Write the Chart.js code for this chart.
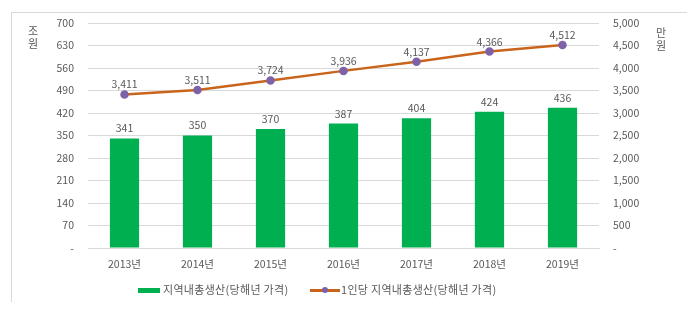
<!DOCTYPE html>
<html><head><meta charset="utf-8">
<script src="https://cdn.jsdelivr.net/npm/chart.js@4/dist/chart.umd.min.js"></script>
<style>
html,body{margin:0;padding:0;background:#fff;}
#wrap{position:relative;width:699px;height:326px;overflow:hidden;}
#frame{position:absolute;left:11px;top:12px;width:676px;height:290px;border-top:1px solid #d9d9d9;border-left:1px solid #d9d9d9;box-sizing:border-box;}
#c{position:absolute;left:0;top:0;}
.leg{position:absolute;top:281px;font-family:"Noto Sans CJK KR","Noto Sans",sans-serif;font-size:11px;letter-spacing:0.3px;color:#595959;white-space:nowrap;line-height:16px;}
</style></head>
<body>
<div id="wrap">
<div id="frame"></div>
<canvas id="c" width="699" height="326"></canvas>
<div class="leg" style="left:138px;"><span style="display:inline-block;width:22px;height:5px;background:#00B050;vertical-align:middle;margin-right:3px;position:relative;top:-1px;"></span>지역내총생산(당해년 가격)</div>
<div class="leg" style="left:310px;"><span style="display:inline-block;width:30px;height:14px;vertical-align:middle;position:relative;top:-1px;margin-right:1px;"><span style="position:absolute;left:0;top:6px;width:30px;height:2.5px;background:#C9651B;"></span><span style="position:absolute;left:12px;top:4px;width:6px;height:6px;border-radius:50%;background:#7E62A8;"></span></span>1인당 지역내총생산(당해년 가격)</div>
</div>
<script>
const categories = ["2013년","2014년","2015년","2016년","2017년","2018년","2019년"];
const grdp = [341,350,370,387,404,424,436];
const grdpPerCapita = [3411,3511,3724,3936,4137,4366,4512];
const leftTicks = [0,70,140,210,280,350,420,490,560,630,700];
const rightTicks = [0,500,1000,1500,2000,2500,3000,3500,4000,4500,5000];

const FONT = '"Noto Sans CJK KR","Noto Sans",sans-serif';
const GRAY = '#595959';

const labelPlugin = {
  id: 'valueLabels',
  afterDatasetsDraw(chart) {
    const ctx = chart.ctx;
    ctx.save();
    ctx.font = '10.5px ' + FONT;
    ctx.fillStyle = GRAY;
    ctx.textAlign = 'center';
    ctx.textBaseline = 'middle';
    chart.data.datasets.forEach((ds, i) => {
      const meta = chart.getDatasetMeta(i);
      meta.data.forEach((el, j) => {
        const v = ds.data[j];
        ctx.fillText(v.toLocaleString('en-US'), el.x, el.y - 10);
      });
    });
    // axis titles stacked vertically
    ctx.font = '11px ' + FONT;
    ctx.fillText('조', 33, 31);
    ctx.fillText('원', 33, 44);
    ctx.fillText('만', 661, 33);
    ctx.fillText('원', 661, 46);
    ctx.restore();
  }
};

new Chart(document.getElementById('c'), {
  data: {
    labels: categories,
    datasets: [
      {
        type: 'line',
        label: '1인당 지역내총생산(당해년 가격)',
        data: grdpPerCapita,
        yAxisID: 'y2',
        borderColor: '#C9651B',
        borderWidth: 2.5,
        pointBackgroundColor: '#7E62A8',
        pointBorderColor: '#7E62A8',
        pointRadius: 3,
        tension: 0,
        order: 0
      },
      {
        type: 'bar',
        label: '지역내총생산(당해년 가격)',
        data: grdp,
        yAxisID: 'y',
        backgroundColor: '#00B050',
        categoryPercentage: 1,
        barPercentage: 0.4,
        order: 1
      }
    ]
  },
  options: {
    responsive: false,
    animation: false,
    devicePixelRatio: 1,
    layout: { padding: { top: 23, bottom: 0, left: 0, right: 0 } },
    plugins: { legend: { display: false }, tooltip: { enabled: false } },
    scales: {
      x: {
        grid: { display: false, drawTicks: false },
        border: { display: true, color: '#d9d9d9' },
        ticks: { color: GRAY, font: { family: FONT, size: 10.5 }, padding: 10 },
        afterFit(s) { s.height = 78; }
      },
      y: {
        position: 'left',
        min: 0, max: 700,
        afterBuildTicks(s) { s.ticks = leftTicks.map(v => ({ value: v })); },
        grid: { color: '#d9d9d9', drawTicks: false },
        border: { display: false },
        ticks: { color: GRAY, font: { family: FONT, size: 10.5 }, padding: 14,
          callback: v => v === 0 ? '-' : v },
        afterFit(s) { s.width = 88; }
      },
      y2: {
        position: 'right',
        min: 0, max: 5000,
        afterBuildTicks(s) { s.ticks = rightTicks.map(v => ({ value: v })); },
        grid: { display: false, drawTicks: false },
        border: { display: false },
        ticks: { color: GRAY, font: { family: FONT, size: 10.5 }, padding: 14,
          callback: v => v === 0 ? '-' : v.toLocaleString('en-US') },
        afterFit(s) { s.width = 100; }
      }
    }
  },
  plugins: [labelPlugin]
});
</script>
</body></html>
